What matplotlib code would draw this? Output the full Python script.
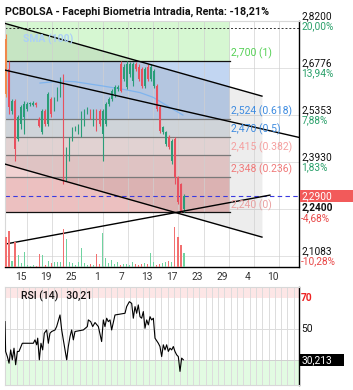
import matplotlib
matplotlib.use('Agg')
import matplotlib.pyplot as plt
import numpy as np
from matplotlib.transforms import blended_transform_factory
from matplotlib.patches import Rectangle

plt.rcParams['font.family'] = ['Roboto', 'DejaVu Sans']

# ---------------- data ----------------
title = "PCBOLSA - Facephi Biometria Intradia, Renta: -18,21%"
date_labels = ['15', '19', '25', '1', '7', '13', '17', '23', '29', '4', '10']
date_ticks = [0, 4, 8, 12, 16, 20, 24, 28, 32, 36, 40]

opens = [2.765, 2.674, 2.547, 2.577, 2.462, 2.508, 2.529, 2.553, 2.568, 2.565,
         2.571, 2.523, 2.483, 2.547, 2.508, 2.583, 2.553, 2.583, 2.598, 2.644,
         2.347, 2.402, 2.462, 2.492, 2.483, 2.477, 2.508, 2.547, 2.547, 2.508,
         2.547, 2.547, 2.477, 2.508, 2.568, 2.583, 2.598, 2.614, 2.689, 2.644,
         2.620, 2.659, 2.638, 2.689, 2.680, 2.674, 2.623, 2.680, 2.644, 2.623,
         2.623, 2.559, 2.483, 2.447, 2.468, 2.395, 2.462, 2.347, 2.326, 2.250]
closes = [2.598, 2.559, 2.577, 2.432, 2.529, 2.559, 2.568, 2.568, 2.571, 2.571,
          2.565, 2.502, 2.547, 2.508, 2.598, 2.538, 2.583, 2.614, 2.644, 2.341,
          2.432, 2.462, 2.492, 2.498, 2.502, 2.538, 2.547, 2.553, 2.529, 2.547,
          2.492, 2.508, 2.547, 2.568, 2.583, 2.608, 2.620, 2.620, 2.608, 2.680,
          2.689, 2.689, 2.689, 2.674, 2.644, 2.623, 2.674, 2.644, 2.680, 2.668,
          2.553, 2.486, 2.498, 2.483, 2.438, 2.456, 2.347, 2.271, 2.244, 2.290]
highs = [2.780, 2.699, 2.583, 2.583, 2.535, 2.565, 2.577, 2.574, 2.574, 2.577,
         2.574, 2.529, 2.553, 2.553, 2.604, 2.589, 2.589, 2.620, 2.650, 2.659,
         2.438, 2.468, 2.498, 2.502, 2.508, 2.547, 2.553, 2.559, 2.553, 2.553,
         2.553, 2.553, 2.553, 2.574, 2.589, 2.614, 2.626, 2.626, 2.699, 2.689,
         2.699, 2.695, 2.695, 2.695, 2.689, 2.680, 2.680, 2.689, 2.689, 2.674,
         2.630, 2.565, 2.502, 2.486, 2.474, 2.462, 2.468, 2.350, 2.330, 2.295]
lows = [2.589, 2.538, 2.538, 2.395, 2.456, 2.492, 2.477, 2.547, 2.562, 2.562,
        2.559, 2.498, 2.477, 2.502, 2.502, 2.529, 2.547, 2.577, 2.589, 2.326,
        2.335, 2.395, 2.456, 2.486, 2.477, 2.468, 2.502, 2.538, 2.523, 2.502,
        2.486, 2.502, 2.395, 2.502, 2.562, 2.577, 2.589, 2.608, 2.605, 2.638,
        2.614, 2.650, 2.623, 2.668, 2.638, 2.617, 2.617, 2.638, 2.638, 2.617,
        2.547, 2.480, 2.477, 2.441, 2.432, 2.386, 2.326, 2.265, 2.241, 2.241]
volumes = [30, 36, 6, 25, 12, 4, 15, 2, 1, 2, 1, 13, 12, 2, 6, 4, 5, 5, 5, 38,
           28, 5, 4, 2, 5, 19, 4, 2, 3, 2, 13, 3, 34, 9, 4, 7, 3, 5, 2, 3,
           3, 2, 5, 3, 2, 3, 4, 3, 14, 5, 2, 3, 4, 5, 6, 5, 40, 30, 22, 14]
first_day, last_day = -2.38, 25.87

sma_x = [3.02, 4.6, 6.19, 8.57, 10.95, 13.0, 14.9, 16.8, 18.9, 20.95, 22.5, 24.1, 25.7]
sma_y = [2.632, 2.635, 2.638, 2.636, 2.629, 2.623, 2.617, 2.611, 2.603, 2.589, 2.571, 2.553, 2.535]

fib_levels = [2.700, 2.524, 2.470, 2.415, 2.348, 2.240]
fib_labels = ['2,700 (1)', '2,524 (0.618)', '2,470 (0.5)', '2,415 (0.382)', '2,348 (0.236)', '2,240 (0)']
fib_end = 33.17

# trend lines (start day, start price, end day, end price)
trend_lines = [(-2.54, 2.8127, 38.25, 2.5924),
               (-2.54, 2.6712, 44.13, 2.4673),
               (-2.54, 2.3864, 38.25, 2.1652),
               (-2.54, 2.1439, 39.52, 2.2924)]

price_ticks = [2.82, 2.6776, 2.5353, 2.3930, 2.1083]
price_tick_labels = ['2,8200', '2,6776', '2,5353', '2,3930', '2,1083']
pct_labels = ['20,00%', '13,94%', '7,88%', '1,83%', '-10,28%']
grid_prices = [2.6776, 2.5353, 2.3930, 2.2507, 2.1083]
max_line = 2.80
last_price = 2.29
low_price = 2.24
low_pct = '-4,68%'

rsi_x = [-2.54, -2.44, -2.17, -1.90, -1.64, -1.38, -1.11, -0.85, -0.58, -0.32, 0.21,
         1.96, 2.22, 2.49, 2.65, 2.91, 3.17, 3.44, 3.70, 4.07, 4.34, 4.60, 4.87, 5.40,
         5.66, 6.19, 6.46, 6.72, 7.25, 7.51, 7.78, 8.04, 8.31, 8.57, 9.89, 10.53,
         10.69, 11.06, 11.38, 11.75, 12.28, 12.80, 13.07, 13.33, 13.60, 13.86, 14.13,
         14.39, 14.92, 16.51, 16.77, 17.20, 17.57, 17.83, 18.10, 18.36, 18.62, 18.89,
         19.15, 19.42, 19.68, 19.95, 20.21, 20.48, 20.74, 21.01, 21.27, 21.80, 22.06,
         22.33, 22.59, 22.86, 23.12, 23.39, 23.65, 23.92, 24.18, 24.44, 24.71, 24.97,
         25.24, 25.50, 25.77]
rsi_y = [54.9, 35.6, 32.3, 28.0, 36.6, 30.2, 37.7, 27.0, 35.6, 35.6, 40.9,
         40.9, 43.1, 39.9, 44.2, 30.2, 40.9, 36.6, 47.4, 49.5, 40.9, 47.4, 48.5, 49.5,
         51.7, 59.2, 49.5, 43.1, 30.2, 38.8, 45.2, 49.5, 43.1, 48.5, 49.5, 51.7,
         56.0, 54.9, 51.7, 54.3, 51.7, 42.0, 56.0, 51.7, 57.1, 54.9, 56.0,
         49.5, 59.2, 60.3, 64.6, 67.8, 66.7, 57.1, 64.6, 60.3, 65.7, 58.1,
         57.1, 61.4, 50.6, 56.0, 52.8, 58.1, 56.0, 57.1, 44.2, 40.9, 38.8,
         32.3, 39.9, 36.6, 39.9, 35.6, 37.7, 36.6, 38.8, 35.6, 33.4, 32.3,
         22.7, 31.3, 30.2]
rsi_last = 30.213

# ---------------- figure ----------------
W, H = 353, 390
fig = plt.figure(figsize=(W / 100, H / 100), dpi=100)
ax = fig.add_axes([5 / W, 1 - 266.7 / H, 294 / W, 245.7 / H])
rax = fig.add_axes([5 / W, 1 - 385 / H, 294 / W, 97.7 / H], sharex=ax)

XMIN, XMAX = -2.54, 44.13
YMIN, YMAX = 2.0755, 2.82
ax.set_xlim(XMIN, XMAX)
ax.set_ylim(YMIN, YMAX)

GREEN = '#2a9d78'
RED = '#e8505e'

# fib zones
zone_cols = ['#d6f7d2', '#c2d6f2', '#dfe5ea', '#f3e3e3', '#f0d2d2', '#ecc0c0']
zone_bounds = [YMAX] + fib_levels
for i in range(6):
    ax.fill_between([XMIN, fib_end], zone_bounds[i + 1], zone_bounds[i],
                    color=zone_cols[i], lw=0, zorder=0.5)

# channel shading between line 1 and line 3
t1, t3 = trend_lines[0], trend_lines[2]
ax.fill_between([t1[0], t1[2]], [t3[1], t3[3]], [t1[1], t1[3]],
                color='black', alpha=0.07, lw=0, zorder=0.6)

# grid
for d in range(1, 45, 4):
    ax.axvline(d, color='#d0d0d0', lw=0.7, alpha=0.7, zorder=0.7)
for gp in grid_prices:
    ax.axhline(gp, color='#e2e2e2', lw=0.7, zorder=0.4)

# fib lines and labels
fib_lcols = ['#111111', '#7a7a7a', '#7a7a7a', '#7a7a7a', '#7a7a7a', '#111111']
fib_tcols = ['#55d055', '#3d8be0', '#3d8be0', '#f5a0a0', '#f07a7a', '#eaa0a0']
for lv, lab, lc, tc in zip(fib_levels, fib_labels, fib_lcols, fib_tcols):
    ax.plot([XMIN, fib_end], [lv, lv], color=lc, lw=0.9, zorder=1)
    ax.text(fib_end + 0.15, lv + 0.004, lab, color=tc, fontsize=7.5,
            va='bottom', ha='left', zorder=5)

# max dotted and last price dashed lines
ax.axhline(max_line, color='#333333', lw=0.7, ls=(0, (2, 2)), zorder=1)
ax.axhline(last_price, color='#3a3ae0', lw=0.8, ls=(0, (4, 3)), zorder=1)

# SMA
ax.plot(sma_x, sma_y, color='#7fb4ee', lw=0.9, zorder=2)
ax.text(0.06, 0.925, 'SMA (100)', transform=ax.transAxes, color='#acd0f6',
        fontsize=7.5, fontweight='bold', va='center', ha='left', zorder=5)

# candles
cx = np.linspace(first_day, last_day, len(opens))
o = np.array(opens); c = np.array(closes)
cols = [GREEN if cc >= oo else RED for oo, cc in zip(o, c)]
cols[0] = '#f0884a'
ax.vlines(cx, lows, highs, colors=cols, lw=0.8, zorder=3)
ax.bar(cx, np.maximum(np.abs(c - o), 0.002), bottom=np.minimum(o, c), width=0.24,
       color=cols, lw=0, zorder=3)

# trend lines
for (x0, y0, x1, y1) in trend_lines:
    ax.plot([x0, x1], [y0, y1], color='black', lw=1.0, zorder=4)

# volume
vax = ax.twinx()
vax.set_ylim(0, 245.7)
vcols = ['#6fd3a0' if cc >= oo else '#f27070' for oo, cc in zip(o, c)]
vax.bar(cx, volumes, width=0.18, color=vcols, lw=0, zorder=2)
vax.axis('off')

# axes styling
for s in ['top', 'left']:
    ax.spines[s].set_color('#d8d8d8')
    ax.spines[s].set_linewidth(0.8)
ax.spines['right'].set_color('black')
ax.spines['bottom'].set_color('black')
ax.spines['right'].set_linewidth(1.0)
ax.spines['bottom'].set_linewidth(1.0)
ax.set_yticks([])
ax.set_xticks(date_ticks)
ax.set_xticklabels(date_labels, fontsize=7.3, color='#333333')
ax.tick_params(axis='x', length=0, pad=3.5)

# right labels
tr = blended_transform_factory(ax.transAxes, ax.transData)
LX = 1.0075
for pv, pl, pc in zip(price_ticks, price_tick_labels, pct_labels):
    ax.text(LX, pv - 0.001, pl, transform=tr, fontsize=7.3, color='#111111',
            va='bottom', ha='left', clip_on=False)
    ax.text(LX, pv - 0.002, pc, transform=tr, fontsize=7.3,
            color=('#e84848' if pc.startswith('-') else '#2aa06a'),
            va='top', ha='left', clip_on=False)
ax.text(LX, low_price - 0.001, '2,2400', transform=tr, fontsize=7.3, color='#111111',
        fontweight='bold', va='bottom', ha='left', clip_on=False, zorder=6)
ax.text(LX, low_price - 0.002, low_pct, transform=tr, fontsize=7.3, color='#e84848',
        va='top', ha='left', clip_on=False)
ax.add_patch(Rectangle((1.0034, last_price - 0.019), 0.184, 0.038, transform=tr,
                       facecolor='#f25a5a', edgecolor='none', clip_on=False, zorder=6))
ax.text(LX, last_price, '2,2900', transform=tr, fontsize=7.3, color='white',
        va='center', ha='left', clip_on=False, zorder=7)

# title
fig.text(5 / W, 1 - 12 / H, title, fontsize=7.75, fontweight='bold', color='#111111',
         va='center', ha='left')

# ---------------- RSI ----------------
rax.set_ylim(13.9, 77.1)
rax.axhspan(70, 77.1, color='#fde6e6', lw=0, zorder=0)
rax.axhspan(13.9, 30, color='#e2fbe2', lw=0, zorder=0)
for d in np.arange(-2, 45):
    rax.axvline(d + 0.3, color='#dcdcdc', lw=0.7, zorder=0.5)
rax.axhline(50, color='#dcdcdc', lw=0.7, zorder=0.5)
rax.axhline(30, color='#d0d0d0', lw=0.7, zorder=0.5)
rax.plot(rsi_x, rsi_y, color='black', lw=0.8, zorder=3)
for s in ['top', 'left', 'bottom']:
    rax.spines[s].set_color('#d8d8d8')
    rax.spines[s].set_linewidth(0.8)
rax.spines['right'].set_color('black')
rax.spines['right'].set_linewidth(1.0)
rax.set_yticks([])
rax.tick_params(axis='x', length=0, labelbottom=False)
rax.text(0.055, 0.91, 'RSI (14)   30,21', transform=rax.transAxes, fontsize=7.5,
         color='#111111', va='center', ha='left', fontweight='medium')
rtr = blended_transform_factory(rax.transAxes, rax.transData)
rax.text(LX, 70, '70', transform=rtr, fontsize=7.4, color='#ee2222', fontweight='bold',
         va='center', ha='left', clip_on=False)
rax.text(LX, 50, '50', transform=rtr, fontsize=7.4, color='#111111',
         va='center', ha='left', clip_on=False)
rax.add_patch(Rectangle((1.0034, rsi_last - 3.9), 0.15, 7.8, transform=rtr,
                        facecolor='black', edgecolor='none', clip_on=False, zorder=6))
rax.text(LX, rsi_last, '30,213', transform=rtr, fontsize=7.3, color='white',
         va='center', ha='left', clip_on=False, zorder=7)

fig.savefig('out.png', dpi=100)
